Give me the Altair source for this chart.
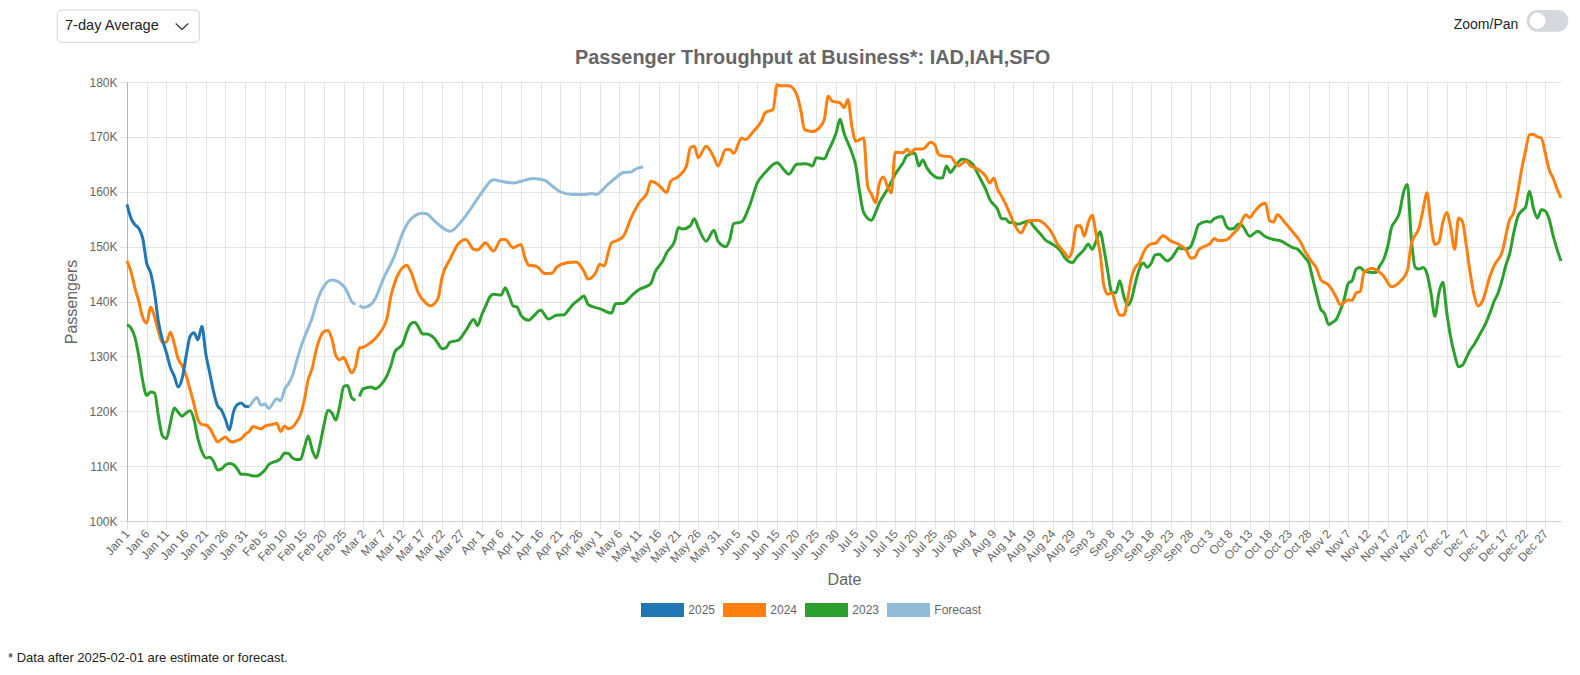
import altair as alt
import pandas as pd

# ---------------- data (day index counted from Jan 1; values in thousands) ----------------
day_2025 = list(range(0, 32))
pax_2025 = [157.7, 155.2, 154.0, 153.3, 151.5, 147.0, 145.2, 141.5, 136.2, 133.0,
            130.7, 128.0, 126.4, 124.4, 126.0, 130.0, 133.6, 134.3, 133.0, 135.5,
            130.5, 127.0, 123.5, 121.0, 120.2, 118.5, 116.6, 119.8, 121.2, 121.5,
            120.9, 120.8]

day_fc = [31, 32, 33, 34, 35, 36, 37, 38, 39, 40, 41, 42, 43, 44, 46, 47, 48, 50, 52, 55,
          56, 57, 58, 59, 60, 62, 63, 65, 68, 70, 72, 75, 76, 78, 82, 85, 88, 90, 93, 95,
          98, 100, 103, 106, 108, 110, 113, 116, 118, 119, 122, 124, 126, 128, 129, 131]
pax_fc = [120.8, 121.8, 122.5, 121.1, 121.3, 120.5, 121.4, 122.3, 121.9, 124.0, 125.0,
          126.5, 129.0, 131.4, 135.2, 137.0, 139.5, 142.8, 143.9, 142.8, 141.6, 140.0,
          139.5, 139.3, 138.9, 139.5, 140.5, 144.0, 148.5, 152.5, 155.0, 156.1, 156.0,
          154.7, 152.8, 154.7, 157.7, 159.8, 162.2, 161.9, 161.6, 161.9, 162.4, 162.1,
          161.0, 160.0, 159.5, 159.5, 159.7, 159.5, 161.3, 162.5, 163.5, 163.6, 164.1, 164.5]

day_2024 = [0, 1, 2, 3, 4, 5, 6, 7, 8, 9, 10, 11, 12, 13, 14, 15, 16, 17, 18, 19, 20, 21, 22,
            23, 24, 25, 26, 27, 28, 29, 30, 31, 32, 33, 34, 35, 36, 37, 38, 39, 40, 41, 42, 43,
            44, 45, 46, 47, 48, 49, 50, 51, 52, 53, 54, 55, 56, 57, 58, 59, 60, 62, 64, 66, 67,
            68, 70, 71, 72, 74, 76, 77, 78, 79, 80, 82, 84, 86, 88, 89, 91, 93, 95, 96, 98, 100,
            101, 102, 104, 106, 108, 109, 112, 114, 116, 117, 119, 120, 121, 123, 124, 126, 128,
            130, 132, 133, 135, 137, 138, 140, 142, 143, 144, 145, 147, 149, 150, 152, 153, 154,
            156, 157, 159, 161, 162, 164, 165, 166, 168, 170, 171, 172, 174, 176, 177, 178, 179,
            181, 182, 183, 184, 185, 186, 187, 188, 189, 190, 191, 192, 193, 194, 195, 197, 198,
            199, 200, 202, 204, 205, 206, 207, 209, 211, 213, 214, 216, 218, 219, 220, 221, 222,
            224, 225, 227, 228, 229, 231, 233, 235, 236, 238, 239, 240, 241, 242, 243, 244, 245,
            246, 247, 248, 249, 250, 251, 252, 253, 254, 255, 256, 257, 258, 260, 261, 263, 265,
            267, 269, 270, 271, 272, 273, 275, 276, 277, 279, 281, 282, 284, 285, 286, 288, 289,
            290, 291, 292, 294, 296, 298, 299, 301, 302, 303, 305, 306, 307, 308, 310, 311, 312,
            313, 314, 316, 318, 319, 321, 323, 325, 326, 328, 329, 330, 331, 332, 333, 334, 335,
            336, 337, 338, 339, 340, 341, 342, 343, 344, 346, 347, 349, 351, 352, 353, 354, 355,
            356, 357, 358, 359, 360, 361, 362, 363, 364]
pax_2024 = [147.4, 145.5, 142.5, 140.0, 137.1, 136.1, 139.0, 137.2, 134.5, 132.5, 132.6, 134.4,
            132.3, 129.5, 128.3, 126.5, 124.0, 121.3, 118.5, 117.6, 117.5, 116.9, 115.6, 114.4,
            114.9, 115.3, 114.6, 114.4, 114.7, 115.0, 115.8, 116.3, 117.2, 117.0, 116.8, 117.3,
            117.5, 117.6, 117.8, 116.3, 117.3, 116.8, 117.1, 118.0, 119.3, 122.0, 125.8, 127.8,
            131.1, 133.4, 134.5, 134.7, 133.2, 130.2, 129.4, 129.8, 128.4, 127.0, 128.2, 131.5,
            131.7, 132.6, 134.1, 137.0, 141.0, 143.5, 146.2, 146.6, 145.5, 141.5, 139.6, 139.2,
            139.6, 140.7, 144.5, 147.7, 150.4, 151.3, 149.5, 149.4, 150.7, 149.2, 151.3, 151.3,
            149.8, 150.4, 148.0, 146.6, 146.4, 145.1, 145.2, 146.2, 147.1, 147.2, 145.5, 144.1,
            145.3, 146.8, 146.5, 150.7, 151.0, 151.9, 155.3, 158.0, 159.8, 161.9, 161.2, 159.9,
            161.9, 162.8, 164.7, 168.0, 168.3, 166.2, 168.3, 166.2, 164.7, 167.7, 167.7, 167.0,
            169.8, 169.5, 171.0, 172.8, 174.4, 175.0, 179.5, 179.3, 179.3, 177.7, 175.0, 171.3,
            171.0, 171.9, 173.2, 177.4, 176.5, 176.2, 175.3, 176.8, 171.9, 169.2, 169.5, 169.8,
            161.0, 159.5, 158.0, 161.6, 162.7, 161.0, 159.8, 167.2, 167.1, 167.8, 167.0, 167.8,
            167.8, 169.0, 168.6, 166.8, 166.5, 166.4, 164.7, 165.6, 164.8, 164.1, 162.8, 161.6,
            162.5, 160.4, 159.2, 156.2, 154.4, 152.5, 153.8, 154.7, 154.8, 154.1, 152.2, 150.7,
            148.9, 148.0, 149.5, 153.8, 153.8, 151.9, 154.4, 155.7, 152.2, 148.9, 142.8, 141.3,
            141.6, 139.2, 137.5, 137.5, 140.5, 144.5, 146.3, 147.1, 148.9, 150.5, 150.6, 152.0,
            151.0, 150.4, 149.2, 147.9, 148.0, 149.4, 149.9, 150.6, 151.5, 151.1, 151.2, 152.5,
            153.2, 155.8, 155.3, 156.2, 157.7, 157.9, 154.8, 154.5, 155.8, 154.3, 152.6, 150.7,
            149.2, 147.0, 146.0, 144.0, 143.0, 142.0, 140.7, 139.4, 140.3, 140.2, 141.6, 141.8,
            145.3, 146.0, 145.3, 144.6, 142.7, 143.5, 145.6, 150.5, 153.5, 156.8, 159.8, 154.0,
            150.4, 150.8, 154.4, 156.2, 153.5, 149.5, 155.2, 154.5, 150.0, 145.0, 141.0, 139.2,
            140.0, 144.7, 146.5, 148.9, 155.0, 156.2, 159.8, 164.0, 167.5, 170.4, 170.5, 170.0,
            169.8, 167.1, 164.0, 162.5, 160.5, 158.9]

day_2023 = [0, 1, 2, 3, 4, 5, 6, 7, 8, 9, 10, 11, 12, 13, 14, 15, 16, 17, 18, 19, 20, 21, 22,
            23, 24, 25, 26, 27, 28, 29, 30, 31, 32, 33, 34, 35, 36, 37, 38, 39, 40, 41, 42, 43,
            44, 45, 46, 47, 48, 49, 50, 51, 52, 53, 54, 55, 56, 57, 58, 59, 60, 62, 63, 65, 66,
            67, 68, 70, 71, 72, 73, 74, 75, 76, 78, 79, 80, 81, 82, 84, 86, 88, 89, 90, 91, 92,
            93, 95, 96, 97, 98, 99, 100, 102, 103, 105, 107, 109, 111, 112, 113, 115, 116, 117,
            118, 120, 123, 124, 126, 128, 130, 132, 133, 134, 136, 137, 139, 140, 141, 143, 144,
            145, 147, 149, 150, 152, 153, 154, 156, 158, 160, 162, 165, 167, 168, 170, 172, 173,
            174, 175, 177, 178, 180, 181, 182, 184, 185, 186, 187, 189, 190, 191, 193, 195, 197,
            198, 200, 201, 202, 203, 205, 206, 207, 208, 209, 210, 212, 213, 215, 216, 218, 219,
            221, 222, 223, 224, 225, 226, 228, 229, 230, 232, 233, 235, 237, 238, 240, 241, 243,
            244, 245, 246, 247, 248, 249, 250, 251, 252, 253, 254, 255, 256, 257, 258, 259, 260,
            261, 262, 263, 264, 265, 266, 267, 268, 269, 270, 271, 272, 274, 275, 276, 278, 279,
            280, 281, 282, 283, 285, 287, 289, 291, 293, 294, 296, 297, 299, 300, 301, 302, 303,
            304, 305, 306, 307, 308, 309, 310, 311, 312, 313, 314, 316, 317, 318, 319, 320, 321,
            322, 323, 324, 325, 326, 327, 328, 329, 330, 331, 332, 333, 334, 335, 336, 337, 338,
            339, 340, 341, 342, 343, 345, 346, 347, 348, 349, 350, 351, 352, 353, 354, 355, 356,
            357, 358, 359, 360, 361, 362, 363, 364]
pax_2023 = [135.8, 135.2, 133.5, 130.0, 125.5, 122.9, 123.5, 123.3, 119.0, 115.5, 115.0, 117.8,
            120.6, 119.8, 119.1, 119.7, 120.1, 118.5, 115.0, 112.7, 111.5, 111.6, 110.8, 109.3,
            109.5, 110.2, 110.5, 110.3, 109.5, 108.5, 108.5, 108.4, 108.2, 108.2, 108.6, 109.3,
            110.3, 110.7, 110.9, 111.4, 112.4, 112.3, 111.5, 111.2, 111.2, 113.3, 115.5, 113.0,
            111.5, 114.0, 117.5, 120.2, 119.7, 118.4, 121.0, 124.5, 124.7, 122.5, 122.0, 122.7,
            124.1, 124.4, 124.1, 125.3, 126.5, 128.4, 130.8, 132.3, 134.4, 135.9, 136.2, 135.3,
            134.1, 134.1, 133.3, 132.3, 131.4, 131.6, 132.6, 132.9, 134.7, 136.7, 135.6, 137.5,
            139.1, 140.7, 141.3, 141.2, 142.5, 141.0, 139.2, 139.0, 137.5, 136.6, 137.2, 138.4,
            136.8, 137.5, 137.6, 138.4, 139.3, 140.5, 141.0, 139.5, 139.1, 138.7, 137.9, 139.6,
            139.7, 141.0, 142.2, 142.8, 143.3, 145.3, 147.4, 148.9, 151.0, 153.5, 153.2, 153.8,
            155.1, 153.5, 151.0, 153.0, 151.0, 150.0, 151.3, 154.2, 154.5, 157.4, 161.6, 163.5,
            165.3, 163.8, 163.2, 165.0, 165.1, 165.0, 164.7, 166.2, 166.0, 167.4, 170.7, 173.2,
            170.7, 167.1, 164.7, 159.8, 156.2, 154.8, 156.2, 158.0, 160.4, 163.2, 165.3, 166.6,
            167.0, 164.7, 165.8, 164.4, 162.8, 162.5, 162.5, 164.7, 163.5, 164.4, 165.9, 165.8,
            164.7, 163.2, 160.4, 158.6, 156.8, 155.1, 155.1, 154.4, 154.4, 154.1, 154.5, 154.7,
            153.8, 152.2, 151.3, 150.4, 149.2, 148.0, 147.1, 148.0, 149.5, 150.5, 149.5, 151.0,
            152.7, 149.5, 145.3, 141.6, 141.6, 143.8, 141.0, 139.3, 140.5, 143.5, 146.0, 147.0,
            146.2, 147.0, 148.5, 148.6, 148.0, 147.4, 147.8, 148.8, 149.8, 149.6, 149.6, 150.0,
            151.9, 154.0, 154.6, 154.5, 155.1, 155.5, 153.8, 153.2, 153.3, 154.1, 153.9, 151.9,
            152.8, 151.8, 151.3, 151.0, 150.6, 149.8, 149.6, 148.0, 147.0, 144.1, 141.2, 138.6,
            137.8, 135.8, 136.2, 136.8, 138.4, 140.5, 143.3, 143.8, 145.9, 146.2, 145.6, 145.3,
            145.3, 146.5, 147.7, 150.0, 153.5, 154.7, 156.2, 159.8, 161.3, 151.5, 146.2, 145.9,
            146.2, 145.0, 141.5, 137.3, 141.5, 143.5, 138.0, 133.5, 130.3, 128.1, 128.4, 129.8,
            131.2, 132.2, 133.5, 136.2, 138.0, 140.0, 141.5, 143.8, 146.6, 148.8, 152.5, 155.4,
            156.5, 157.2, 160.1, 157.0, 155.2, 156.7, 156.5, 155.0, 152.0, 149.5, 147.4]

SERIES = ["2025", "2024", "2023", "Forecast"]
COLORS = ["#1f77b4", "#ff7f0e", "#2ca02c", "#8fbbd9"]
Y_TICKS = [100000, 110000, 120000, 130000, 140000, 150000, 160000, 170000, 180000]
X_TICKS = list(range(0, 365, 5))
GAP_AFTER = {"2023": 58, "Forecast": 58}   # lines break between Feb 28 and Mar 1

rows = []
for name, days, vals in [("2025", day_2025, pax_2025), ("2024", day_2024, pax_2024),
                         ("2023", day_2023, pax_2023), ("Forecast", day_fc, pax_fc)]:
    for d, v in zip(days, vals):
        part = "b" if (name in GAP_AFTER and d > GAP_AFTER[name]) else "a"
        rows.append({"day": d, "passengers": v * 1000, "series": name, "seg": name + part})
df = pd.DataFrame(rows)

FONT = "Liberation Sans"
GRID = "#e3e3e3"
TXT = "#666666"

color_scale = alt.Scale(domain=SERIES, range=COLORS)

x_enc = alt.X(
    "day:Q",
    scale=alt.Scale(domain=[0, 364], nice=False, zero=False),
    axis=alt.Axis(
        values=X_TICKS,
        labelExpr="timeFormat(datetime(2025, 0, 1 + datum.value), '%b %-d')",
        labelAngle=-48, labelAlign="right", labelBaseline="middle",
        labelOverlap=False, labelFlush=False,
        labelFont=FONT, labelFontSize=12, labelColor=TXT, labelPadding=2,
        tickSize=8, tickColor=GRID, grid=True, gridColor=GRID,
        domainColor="#cfcfcf",
        title="Date", titleFont=FONT, titleFontSize=16, titleFontWeight="normal",
        titleColor=TXT, titleY=58, titleBaseline="middle",
    ),
)
y_enc = alt.Y(
    "passengers:Q",
    scale=alt.Scale(domain=[100000, 180000], nice=False, zero=False),
    axis=alt.Axis(
        values=Y_TICKS,
        labelExpr="format(datum.value / 1000, 'd') + 'K'",
        labelFont=FONT, labelFontSize=12, labelColor=TXT, labelPadding=2,
        tickSize=8, tickColor=GRID, grid=True, gridColor=GRID,
        domainColor="#b5b5b5",
        title="Passengers", titleFont=FONT, titleFontSize=16, titleFontWeight="normal",
        titleColor=TXT, titleX=-56, titleY=219.5, titleAngle=-90,
        titleAlign="center", titleBaseline="middle",
    ),
)

# legend boxes: a flat rectangle outline whose thick stroke fills it (43 x 14 px)
legend = alt.Legend(
    orient="none", legendX=514, legendY=506.5, direction="horizontal",
    title=None, symbolType="M-1,-0.194H1V0.194H-1Z", symbolSize=1296,
    symbolStrokeWidth=7, symbolOpacity=1, gridAlign="each",
    labelFont=FONT, labelFontSize=12, labelColor=TXT,
    labelOffset=4.3, columnPadding=-3, padding=0,
)


def line_layer(name):
    return (
        alt.Chart(df)
        .transform_filter(alt.datum.series == name)
        .mark_line(interpolate="monotone")
        .encode(x=x_enc, y=y_enc,
                color=alt.Color("series:N", scale=color_scale, legend=legend),
                strokeWidth=alt.value(3),
                detail="seg:N")
    )


one = pd.DataFrame({"k": [0]})
base = alt.Chart(one)

title_text = base.mark_text(
    text="Passenger Throughput at Business*: IAD,IAH,SFO", font=FONT, fontSize=19.9,
    fontWeight="bold", color=TXT, align="center", baseline="alphabetic",
).encode(x=alt.value(685.5), y=alt.value(-18))

footnote = base.mark_text(
    text="* Data after 2025-02-01 are estimate or forecast.", font=FONT, fontSize=13,
    color="#222222", align="left", baseline="alphabetic",
).encode(x=alt.value(-119), y=alt.value(580))

dropdown_box = base.mark_rect(
    fill="white", stroke="#ced4da", strokeWidth=1, cornerRadius=4,
).encode(x=alt.value(-69.7), x2=alt.value(72.3), y=alt.value(-72), y2=alt.value(-39.7))

dropdown_text = base.mark_text(
    text="7-day Average", font=FONT, fontSize=14.6, color="#212529",
    align="left", baseline="alphabetic",
).encode(x=alt.value(-62), y=alt.value(-51.6))

chev_a = base.mark_rule(color="#343a40", strokeWidth=1.3).encode(
    x=alt.value(48.7), y=alt.value(-58.5), x2=alt.value(55), y2=alt.value(-52.5))
chev_b = base.mark_rule(color="#343a40", strokeWidth=1.3).encode(
    x=alt.value(55), y=alt.value(-52.5), x2=alt.value(61.3), y2=alt.value(-58.5))

toggle_text = base.mark_text(
    text="Zoom/Pan", font=FONT, fontSize=14, color="#212529",
    align="right", baseline="alphabetic",
).encode(x=alt.value(1391.3), y=alt.value(-53.5))

toggle_pill = base.mark_rect(fill="#d4d8de", cornerRadius=10.8).encode(
    x=alt.value(1399.7), x2=alt.value(1441.3), y=alt.value(-72), y2=alt.value(-50.3))

toggle_knob = base.mark_circle(color="white", opacity=1, size=254).encode(
    x=alt.value(1410.5), y=alt.value(-61.2))

chart = (
    alt.layer(
        line_layer("Forecast"), line_layer("2023"), line_layer("2024"), line_layer("2025"),
        title_text, footnote, dropdown_box, dropdown_text, chev_a, chev_b,
        toggle_text, toggle_pill, toggle_knob,
    )
    .properties(
        width=1434, height=439,
        autosize=alt.AutoSizeParams(type="none"),
        padding={"left": 119, "top": 74, "right": 10, "bottom": 144},
    )
    .configure_view(strokeWidth=0)
)

chart.save("out.html", embed_options={"renderer": "svg", "actions": False})
